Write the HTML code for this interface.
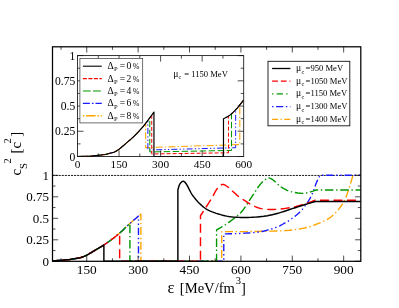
<!DOCTYPE html>
<html><head><meta charset="utf-8"><style>
html,body{margin:0;padding:0;background:#fff;width:399px;height:308px;overflow:hidden}
.t{font-family:"Liberation Serif",serif;fill:#000}
svg{will-change:transform}
</style></head><body>
<svg width="399" height="308" viewBox="0 0 399 308" style="position:absolute;left:0;top:0">
<rect width="399" height="308" fill="#fff"/>
<clipPath id="cm"><rect x="52.50" y="46.80" width="308.30" height="215.50"/></clipPath>
<clipPath id="ci"><rect x="77.50" y="55.60" width="166.20" height="101.90"/></clipPath>
<path d="M52.50 175.45 H360.80" stroke="#000" stroke-width="0.9" stroke-dasharray="2.1 0.98" fill="none"/>
<g clip-path="url(#cm)" fill="none" stroke-linejoin="round">
<path d="M35.37 261.30 L52.50 261.04 L69.63 259.58 L80.59 257.69 L81.05 257.51 L81.64 257.28 L82.34 257.02 L83.14 256.71 L84.00 256.37 L84.90 255.98 L85.83 255.56 L86.76 255.11 L87.71 254.60 L88.73 254.03 L89.79 253.42 L90.89 252.78 L92.00 252.11 L93.12 251.44 L94.23 250.77 L95.32 250.12 L96.39 249.49 L97.46 248.86 L98.53 248.24 L99.60 247.60 L100.67 246.97 L101.74 246.31 L102.81 245.65 L103.88 244.96 L104.96 244.25 L106.06 243.51 L107.16 242.76 L108.25 241.99 L109.34 241.22 L110.40 240.45 L111.44 239.69 L112.45 238.94 L113.39 238.23 L114.27 237.55 L115.11 236.90 L115.94 236.24 L116.78 235.55 L117.66 234.82 L118.60 234.00 L119.64 233.09 L120.79 232.05 L122.03 230.90 L123.34 229.66 L124.69 228.37 L126.05 227.07 L127.40 225.79 L128.69 224.58 L129.92 223.46 L131.11 222.40 L132.31 221.36 L133.50 220.34 L134.65 219.36 L135.75 218.44 L136.77 217.59 L137.68 216.82 L138.48 216.15 L139.15 215.58 L139.71 215.11 L140.17 214.72 L140.56 214.40 L140.87 214.14 L140.88 214.14 L140.88 261.30 L221.72 261.30 L221.72 231.63 L221.72 231.63 L223.10 231.63 L224.82 231.64 L226.85 231.66 L229.17 231.67 L231.76 231.67 L234.60 231.67 L237.66 231.66 L240.91 231.63 L244.58 231.59 L248.81 231.53 L253.40 231.47 L258.16 231.39 L262.91 231.31 L267.45 231.22 L271.60 231.13 L275.16 231.03 L278.13 230.93 L280.66 230.85 L282.87 230.76 L284.84 230.67 L286.67 230.55 L288.46 230.41 L290.30 230.23 L292.29 230.00 L294.38 229.73 L296.46 229.44 L298.52 229.13 L300.57 228.78 L302.62 228.38 L304.66 227.95 L306.70 227.45 L308.73 226.90 L310.81 226.26 L312.96 225.54 L315.13 224.76 L317.27 223.93 L319.36 223.08 L321.34 222.23 L323.18 221.40 L324.83 220.62 L326.27 219.90 L327.53 219.21 L328.64 218.55 L329.65 217.89 L330.59 217.21 L331.50 216.49 L332.43 215.71 L333.40 214.86 L334.41 213.91 L335.42 212.89 L336.43 211.81 L337.42 210.68 L338.38 209.55 L339.29 208.42 L340.14 207.31 L340.93 206.26 L341.65 205.26 L342.29 204.28 L342.89 203.33 L343.44 202.39 L343.95 201.45 L344.44 200.50 L344.91 199.52 L345.38 198.52 L345.84 197.49 L346.26 196.43 L346.66 195.36 L347.03 194.27 L347.40 193.18 L347.75 192.09 L348.11 191.00 L348.47 189.92 L348.83 188.83 L349.20 187.71 L349.57 186.58 L349.92 185.46 L350.27 184.36 L350.60 183.29 L350.92 182.27 L351.21 181.32 L351.48 180.40 L351.75 179.49 L352.00 178.61 L352.24 177.77 L352.45 177.00 L352.64 176.32 L352.80 175.75 L352.92 175.30 L360.80 175.30" stroke="#ffa500" stroke-width="1.40" stroke-dasharray="8 2.7 1.4 2.7"/>
<path d="M35.37 261.30 L52.50 261.04 L69.63 259.58 L80.59 257.69 L81.05 257.51 L81.64 257.28 L82.34 257.02 L83.14 256.71 L84.00 256.37 L84.90 255.98 L85.83 255.56 L86.76 255.11 L87.71 254.60 L88.73 254.03 L89.79 253.42 L90.89 252.78 L92.00 252.11 L93.12 251.44 L94.23 250.77 L95.32 250.12 L96.39 249.49 L97.46 248.86 L98.53 248.24 L99.60 247.60 L100.67 246.97 L101.74 246.31 L102.81 245.65 L103.88 244.96 L104.96 244.25 L106.06 243.51 L107.16 242.76 L108.25 241.99 L109.34 241.22 L110.40 240.45 L111.44 239.69 L112.45 238.94 L113.39 238.23 L114.27 237.55 L115.11 236.90 L115.94 236.24 L116.78 235.55 L117.66 234.82 L118.60 234.00 L119.64 233.09 L120.79 232.05 L122.03 230.90 L123.34 229.66 L124.69 228.37 L126.05 227.07 L127.40 225.79 L128.69 224.58 L129.92 223.46 L131.11 222.40 L132.31 221.36 L133.50 220.34 L134.65 219.36 L135.75 218.44 L136.77 217.59 L137.68 216.82 L138.48 216.15 L138.48 216.15 L138.48 261.30 L223.78 261.30 L223.78 233.95 L223.78 233.95 L225.09 233.91 L226.82 233.86 L228.87 233.81 L231.16 233.74 L233.60 233.67 L236.10 233.58 L238.57 233.47 L240.91 233.35 L243.20 233.23 L245.55 233.12 L247.95 233.00 L250.37 232.87 L252.78 232.70 L255.16 232.49 L257.49 232.22 L259.75 231.89 L261.97 231.46 L264.23 230.95 L266.46 230.38 L268.65 229.76 L270.76 229.12 L272.74 228.49 L274.56 227.89 L276.19 227.33 L277.58 226.82 L278.75 226.34 L279.76 225.89 L280.64 225.43 L281.46 224.98 L282.27 224.50 L283.12 224.00 L284.07 223.46 L285.08 222.89 L286.09 222.31 L287.11 221.71 L288.14 221.10 L289.17 220.45 L290.20 219.77 L291.24 219.06 L292.29 218.30 L293.35 217.51 L294.43 216.68 L295.52 215.83 L296.61 214.94 L297.70 214.01 L298.78 213.05 L299.83 212.04 L300.85 210.99 L301.87 209.87 L302.88 208.67 L303.89 207.41 L304.88 206.13 L305.83 204.83 L306.75 203.54 L307.60 202.29 L308.39 201.10 L309.10 199.98 L309.74 198.90 L310.31 197.86 L310.85 196.83 L311.36 195.79 L311.85 194.74 L312.34 193.65 L312.84 192.50 L313.35 191.27 L313.84 189.96 L314.32 188.60 L314.79 187.23 L315.25 185.87 L315.71 184.56 L316.16 183.32 L316.61 182.18 L317.08 181.11 L317.57 180.06 L318.07 179.05 L318.56 178.10 L319.02 177.22 L319.43 176.46 L319.77 175.81 L320.04 175.30 L360.80 175.30" stroke="#1a1aff" stroke-width="1.40" stroke-dasharray="7.2 2.8 1.4 2.8 1.4 2.8"/>
<path d="M35.37 261.30 L52.50 261.04 L69.63 259.58 L80.59 257.69 L81.05 257.51 L81.64 257.28 L82.34 257.02 L83.14 256.71 L84.00 256.37 L84.90 255.98 L85.83 255.56 L86.76 255.11 L87.71 254.60 L88.73 254.03 L89.79 253.42 L90.89 252.78 L92.00 252.11 L93.12 251.44 L94.23 250.77 L95.32 250.12 L96.39 249.49 L97.46 248.86 L98.53 248.24 L99.60 247.60 L100.67 246.97 L101.74 246.31 L102.81 245.65 L103.88 244.96 L104.96 244.25 L106.06 243.51 L107.16 242.76 L108.25 241.99 L109.34 241.22 L110.40 240.45 L111.44 239.69 L112.45 238.94 L113.39 238.23 L114.27 237.55 L115.11 236.90 L115.94 236.24 L116.78 235.55 L117.66 234.82 L118.60 234.00 L119.64 233.09 L120.79 232.05 L122.03 230.90 L123.34 229.66 L124.69 228.37 L126.05 227.07 L127.40 225.79 L128.69 224.58 L129.92 223.46 L129.92 223.46 L129.92 261.30 L216.58 261.30 L216.58 229.91 L216.58 229.91 L217.38 229.44 L218.42 228.86 L219.65 228.16 L221.04 227.37 L222.53 226.50 L224.08 225.54 L225.66 224.53 L227.20 223.46 L228.80 222.31 L230.52 221.07 L232.33 219.74 L234.16 218.34 L235.98 216.90 L237.74 215.43 L239.40 213.94 L240.91 212.45 L242.25 210.96 L243.46 209.44 L244.58 207.89 L245.64 206.31 L246.66 204.72 L247.67 203.10 L248.72 201.46 L249.81 199.81 L250.98 198.07 L252.20 196.22 L253.44 194.31 L254.67 192.39 L255.88 190.54 L257.03 188.79 L258.10 187.22 L259.06 185.88 L259.90 184.77 L260.65 183.85 L261.32 183.09 L261.93 182.45 L262.50 181.90 L263.06 181.40 L263.62 180.94 L264.20 180.46 L264.79 179.98 L265.36 179.54 L265.92 179.14 L266.47 178.79 L267.01 178.50 L267.56 178.28 L268.10 178.12 L268.65 178.05 L269.20 178.06 L269.72 178.15 L270.23 178.30 L270.75 178.53 L271.29 178.81 L271.85 179.16 L272.45 179.57 L273.11 180.03 L273.83 180.59 L274.60 181.27 L275.43 182.04 L276.27 182.85 L277.13 183.68 L277.99 184.48 L278.82 185.23 L279.61 185.88 L280.38 186.45 L281.13 186.97 L281.86 187.46 L282.59 187.92 L283.31 188.34 L284.02 188.74 L284.73 189.12 L285.44 189.49 L286.10 189.83 L286.70 190.14 L287.26 190.42 L287.84 190.68 L288.45 190.93 L289.15 191.17 L289.96 191.40 L290.92 191.64 L292.07 191.90 L293.38 192.18 L294.82 192.47 L296.34 192.74 L297.88 192.99 L299.40 193.18 L300.87 193.31 L302.22 193.36 L303.51 193.31 L304.79 193.17 L306.05 192.96 L307.28 192.71 L308.45 192.43 L309.55 192.14 L310.56 191.87 L311.47 191.64 L312.29 191.42 L313.03 191.19 L313.69 190.95 L314.28 190.72 L314.79 190.50 L315.24 190.30 L315.61 190.13 L315.93 190.01 L360.80 190.01" stroke="#009600" stroke-width="1.40" stroke-dasharray="8.5 2.7 1.4 2.7"/>
<path d="M35.37 261.30 L52.50 261.04 L69.63 259.58 L80.59 257.69 L81.05 257.51 L81.64 257.28 L82.34 257.02 L83.14 256.71 L84.00 256.37 L84.90 255.98 L85.83 255.56 L86.76 255.11 L87.71 254.60 L88.73 254.03 L89.79 253.42 L90.89 252.78 L92.00 252.11 L93.12 251.44 L94.23 250.77 L95.32 250.12 L96.39 249.49 L97.46 248.86 L98.53 248.24 L99.60 247.60 L100.67 246.97 L101.74 246.31 L102.81 245.65 L103.88 244.96 L104.96 244.25 L106.06 243.51 L107.16 242.76 L108.25 241.99 L109.34 241.22 L110.40 240.45 L111.44 239.69 L112.45 238.94 L113.39 238.23 L114.27 237.55 L115.11 236.90 L115.94 236.24 L116.78 235.55 L117.66 234.82 L118.60 234.00 L119.64 233.09 L119.64 233.09 L119.64 261.30 L200.48 261.30 L200.48 215.72 L200.48 215.72 L200.97 214.98 L201.62 213.99 L202.39 212.81 L203.25 211.50 L204.14 210.13 L205.04 208.76 L205.89 207.45 L206.65 206.26 L207.34 205.18 L208.01 204.15 L208.65 203.14 L209.28 202.15 L209.91 201.16 L210.53 200.16 L211.15 199.14 L211.79 198.09 L212.43 196.97 L213.07 195.79 L213.72 194.57 L214.36 193.35 L215.00 192.16 L215.64 191.02 L216.28 189.98 L216.93 189.06 L217.57 188.23 L218.21 187.45 L218.85 186.74 L219.50 186.09 L220.14 185.54 L220.78 185.08 L221.42 184.73 L222.06 184.50 L222.70 184.41 L223.31 184.44 L223.92 184.59 L224.53 184.83 L225.15 185.15 L225.80 185.55 L226.48 185.99 L227.20 186.48 L227.98 187.04 L228.80 187.71 L229.65 188.46 L230.52 189.26 L231.41 190.10 L232.30 190.93 L233.19 191.74 L234.05 192.50 L234.85 193.19 L235.54 193.84 L236.20 194.46 L236.88 195.08 L237.63 195.73 L238.52 196.43 L239.59 197.21 L240.91 198.09 L242.50 199.14 L244.35 200.36 L246.38 201.69 L248.55 203.05 L250.79 204.39 L253.04 205.63 L255.24 206.70 L257.35 207.55 L259.36 208.18 L261.33 208.65 L263.29 208.99 L265.25 209.22 L267.23 209.36 L269.24 209.43 L271.31 209.45 L273.45 209.44 L275.71 209.38 L278.09 209.23 L280.54 209.00 L283.02 208.72 L285.48 208.40 L287.88 208.04 L290.16 207.67 L292.29 207.29 L294.28 206.89 L296.18 206.45 L298.00 205.97 L299.74 205.48 L301.40 204.97 L303.00 204.46 L304.53 203.97 L305.99 203.51 L307.42 203.05 L308.83 202.56 L310.19 202.07 L311.47 201.59 L312.64 201.15 L313.68 200.75 L314.56 200.41 L315.24 200.15 L360.80 200.15" stroke="#f00" stroke-width="1.45" stroke-dasharray="9 4.5"/>
<path d="M35.37 261.30 L52.50 261.04 L69.63 259.58 L80.59 257.69 L81.05 257.51 L81.64 257.28 L82.34 257.02 L83.14 256.71 L84.00 256.37 L84.90 255.98 L85.83 255.56 L86.76 255.11 L87.71 254.60 L88.73 254.03 L89.79 253.42 L90.89 252.78 L92.00 252.11 L93.12 251.44 L94.23 250.77 L95.32 250.12 L96.39 249.49 L97.46 248.86 L98.53 248.24 L99.60 247.60 L100.67 246.97 L101.74 246.31 L102.81 245.65 L103.88 244.96 L103.88 244.96 L103.88 261.30 L177.88 261.30 L177.88 189.92 L177.88 189.92 L178.02 189.43 L178.21 188.76 L178.44 187.95 L178.69 187.07 L178.97 186.17 L179.27 185.30 L179.59 184.53 L179.93 183.90 L180.29 183.37 L180.69 182.87 L181.11 182.42 L181.56 182.02 L182.01 181.70 L182.47 181.46 L182.92 181.33 L183.36 181.32 L183.77 181.42 L184.16 181.60 L184.55 181.88 L184.94 182.25 L185.35 182.72 L185.78 183.29 L186.26 183.97 L186.78 184.76 L187.35 185.71 L187.96 186.84 L188.60 188.10 L189.27 189.45 L189.97 190.85 L190.70 192.24 L191.47 193.58 L192.26 194.82 L193.10 196.00 L193.97 197.17 L194.88 198.33 L195.82 199.47 L196.78 200.57 L197.77 201.65 L198.78 202.69 L199.80 203.68 L200.80 204.62 L201.76 205.52 L202.72 206.38 L203.72 207.21 L204.78 208.01 L205.94 208.78 L207.24 209.55 L208.71 210.30 L210.37 211.06 L212.22 211.83 L214.22 212.58 L216.31 213.32 L218.45 214.01 L220.61 214.65 L222.74 215.23 L224.81 215.72 L226.80 216.13 L228.77 216.47 L230.72 216.74 L232.68 216.96 L234.67 217.13 L236.69 217.27 L238.76 217.37 L240.91 217.44 L243.15 217.48 L245.50 217.49 L247.92 217.45 L250.37 217.38 L252.81 217.27 L255.21 217.13 L257.54 216.95 L259.75 216.75 L261.83 216.52 L263.80 216.27 L265.70 215.98 L267.56 215.67 L269.41 215.31 L271.27 214.92 L273.18 214.48 L275.16 214.00 L277.24 213.45 L279.40 212.83 L281.61 212.15 L283.83 211.44 L286.04 210.71 L288.21 209.99 L290.30 209.31 L292.29 208.67 L294.20 208.06 L296.06 207.47 L297.87 206.88 L299.63 206.31 L301.33 205.77 L302.96 205.24 L304.51 204.75 L305.99 204.28 L307.42 203.84 L308.83 203.41 L310.19 203.01 L311.47 202.63 L312.64 202.29 L313.68 201.99 L314.56 201.73 L315.24 201.53 L360.80 201.53" stroke="#000" stroke-width="1.45"/>
</g>
<path d="M61.06 261.30 v-3.00 M61.06 46.80 v3.00 M86.76 261.30 v-5.70 M86.76 46.80 v5.70 M112.45 261.30 v-3.00 M112.45 46.80 v3.00 M138.14 261.30 v-5.70 M138.14 46.80 v5.70 M163.83 261.30 v-3.00 M163.83 46.80 v3.00 M189.52 261.30 v-5.70 M189.52 46.80 v5.70 M215.21 261.30 v-3.00 M215.21 46.80 v3.00 M240.91 261.30 v-5.70 M240.91 46.80 v5.70 M266.60 261.30 v-3.00 M266.60 46.80 v3.00 M292.29 261.30 v-5.70 M292.29 46.80 v5.70 M317.98 261.30 v-3.00 M317.98 46.80 v3.00 M343.67 261.30 v-5.70 M343.67 46.80 v5.70 M52.50 261.30 h5.70 M360.80 261.30 h-5.70 M52.50 250.55 h3.00 M360.80 250.55 h-3.00 M52.50 239.80 h5.70 M360.80 239.80 h-5.70 M52.50 229.05 h3.00 M360.80 229.05 h-3.00 M52.50 218.30 h5.70 M360.80 218.30 h-5.70 M52.50 207.55 h3.00 M360.80 207.55 h-3.00 M52.50 196.80 h5.70 M360.80 196.80 h-5.70 M52.50 186.05 h3.00 M360.80 186.05 h-3.00 M52.50 175.30 h5.70 M360.80 175.30 h-5.70" stroke="#000" stroke-width="0.7" fill="none"/>
<rect x="52.50" y="46.80" width="308.30" height="214.50" fill="none" stroke="#000" stroke-width="1.25"/>
<rect x="77.50" y="55.60" width="166.20" height="100.90" fill="#fff" stroke="none"/>
<g clip-path="url(#ci)" fill="none" stroke-linejoin="round">
<path d="M77.50 156.50 L91.35 156.20 L105.20 154.48 L114.06 152.26 L114.44 152.05 L114.91 151.78 L115.48 151.47 L116.12 151.11 L116.82 150.71 L117.55 150.26 L118.30 149.77 L119.05 149.24 L119.82 148.64 L120.64 147.98 L121.50 147.26 L122.39 146.50 L123.29 145.72 L124.20 144.93 L125.10 144.14 L125.97 143.38 L126.84 142.64 L127.71 141.91 L128.57 141.17 L129.44 140.43 L130.30 139.68 L131.17 138.92 L132.03 138.14 L132.90 137.33 L133.77 136.49 L134.66 135.63 L135.55 134.75 L136.43 133.85 L137.31 132.94 L138.17 132.04 L139.01 131.15 L139.82 130.27 L140.59 129.43 L141.30 128.64 L141.98 127.87 L142.65 127.10 L143.33 126.29 L144.04 125.43 L144.80 124.47 L145.64 123.40 L145.64 123.40 L145.64 147.62 L239.82 144.59 L239.82 104.94 L240.67 103.87 L241.61 102.67 L242.46 101.58 L243.17 100.67 L243.70 100.00" stroke="#ffa500" stroke-width="1.05" stroke-dasharray="7 2.2 1.3 2.2"/>
<path d="M77.50 156.50 L91.35 156.20 L105.20 154.48 L114.06 152.26 L114.44 152.05 L114.91 151.78 L115.48 151.47 L116.12 151.11 L116.82 150.71 L117.55 150.26 L118.30 149.77 L119.05 149.24 L119.82 148.64 L120.64 147.98 L121.50 147.26 L122.39 146.50 L123.29 145.72 L124.20 144.93 L125.10 144.14 L125.97 143.38 L126.84 142.64 L127.71 141.91 L128.57 141.17 L129.44 140.43 L130.30 139.68 L131.17 138.92 L132.03 138.14 L132.90 137.33 L133.77 136.49 L134.66 135.63 L135.55 134.75 L136.43 133.85 L137.31 132.94 L138.17 132.04 L139.01 131.15 L139.82 130.27 L140.59 129.43 L141.30 128.64 L141.98 127.87 L142.65 127.10 L143.33 126.29 L144.04 125.43 L144.80 124.47 L145.64 123.40 L146.57 122.19 L147.58 120.83 L147.86 120.44 L147.86 150.04 L235.67 147.72 L235.67 109.76 L235.91 109.51 L236.78 108.57 L237.69 107.54 L238.67 106.37 L239.68 105.13 L240.67 103.87 L241.61 102.67 L242.46 101.58 L243.17 100.67 L243.70 100.00" stroke="#1a1aff" stroke-width="1.00" stroke-dasharray="6 2.2 1.3 2.2 1.3 2.2"/>
<path d="M77.50 156.50 L91.35 156.20 L105.20 154.48 L114.06 152.26 L114.44 152.05 L114.91 151.78 L115.48 151.47 L116.12 151.11 L116.82 150.71 L117.55 150.26 L118.30 149.77 L119.05 149.24 L119.82 148.64 L120.64 147.98 L121.50 147.26 L122.39 146.50 L123.29 145.72 L124.20 144.93 L125.10 144.14 L125.97 143.38 L126.84 142.64 L127.71 141.91 L128.57 141.17 L129.44 140.43 L130.30 139.68 L131.17 138.92 L132.03 138.14 L132.90 137.33 L133.77 136.49 L134.66 135.63 L135.55 134.75 L136.43 133.85 L137.31 132.94 L138.17 132.04 L139.01 131.15 L139.82 130.27 L140.59 129.43 L141.30 128.64 L141.98 127.87 L142.65 127.10 L143.33 126.29 L144.04 125.43 L144.80 124.47 L145.64 123.40 L146.57 122.19 L147.58 120.83 L148.64 119.37 L149.73 117.86 L149.80 117.77 L149.80 151.96 L231.51 150.45 L231.51 113.77 L231.54 113.74 L232.41 112.97 L233.28 112.16 L234.15 111.31 L235.03 110.42 L235.91 109.51 L236.78 108.57 L237.69 107.54 L238.67 106.37 L239.68 105.13 L240.67 103.87 L241.61 102.67 L242.46 101.58 L243.17 100.67 L243.70 100.00" stroke="#009600" stroke-width="1.00" stroke-dasharray="6.5 2.5"/>
<path d="M77.50 156.50 L91.35 156.20 L105.20 154.48 L114.06 152.26 L114.44 152.05 L114.91 151.78 L115.48 151.47 L116.12 151.11 L116.82 150.71 L117.55 150.26 L118.30 149.77 L119.05 149.24 L119.82 148.64 L120.64 147.98 L121.50 147.26 L122.39 146.50 L123.29 145.72 L124.20 144.93 L125.10 144.14 L125.97 143.38 L126.84 142.64 L127.71 141.91 L128.57 141.17 L129.44 140.43 L130.30 139.68 L131.17 138.92 L132.03 138.14 L132.90 137.33 L133.77 136.49 L134.66 135.63 L135.55 134.75 L136.43 133.85 L137.31 132.94 L138.17 132.04 L139.01 131.15 L139.82 130.27 L140.59 129.43 L141.30 128.64 L141.98 127.87 L142.65 127.10 L143.33 126.29 L144.04 125.43 L144.80 124.47 L145.64 123.40 L146.57 122.19 L147.58 120.83 L148.64 119.37 L149.73 117.86 L150.83 116.34 L151.74 115.09 L151.74 153.98 L228.47 152.77 L228.47 116.08 L228.98 115.75 L229.85 115.13 L230.69 114.47 L231.54 113.74 L232.41 112.97 L233.28 112.16 L234.15 111.31 L235.03 110.42 L235.91 109.51 L236.78 108.57 L237.69 107.54 L238.67 106.37 L239.68 105.13 L240.67 103.87 L241.61 102.67 L242.46 101.58 L243.17 100.67 L243.70 100.00" stroke="#f00" stroke-width="1.00" stroke-dasharray="4 2"/>
<path d="M77.50 156.50 L91.35 156.20 L105.20 154.48 L114.06 152.26 L114.44 152.05 L114.91 151.78 L115.48 151.47 L116.12 151.11 L116.82 150.71 L117.55 150.26 L118.30 149.77 L119.05 149.24 L119.82 148.64 L120.64 147.98 L121.50 147.26 L122.39 146.50 L123.29 145.72 L124.20 144.93 L125.10 144.14 L125.97 143.38 L126.84 142.64 L127.71 141.91 L128.57 141.17 L129.44 140.43 L130.30 139.68 L131.17 138.92 L132.03 138.14 L132.90 137.33 L133.77 136.49 L134.66 135.63 L135.55 134.75 L136.43 133.85 L137.31 132.94 L138.17 132.04 L139.01 131.15 L139.82 130.27 L140.59 129.43 L141.30 128.64 L141.98 127.87 L142.65 127.10 L143.33 126.29 L144.04 125.43 L144.80 124.47 L145.64 123.40 L146.57 122.19 L147.58 120.83 L148.64 119.37 L149.73 117.86 L150.83 116.34 L151.91 114.84 L152.96 113.42 L153.95 112.10 L153.95 112.10 L153.95 156.50 L223.48 156.50 L223.48 118.76 L223.97 118.50 L224.61 118.18 L225.38 117.80 L226.23 117.36 L227.14 116.87 L228.07 116.33 L228.98 115.75 L229.85 115.13 L230.69 114.47 L231.54 113.74 L232.41 112.97 L233.28 112.16 L234.15 111.31 L235.03 110.42 L235.91 109.51 L236.78 108.57 L237.69 107.54 L238.67 106.37 L239.68 105.13 L240.67 103.87 L241.61 102.67 L242.46 101.58 L243.17 100.67 L243.70 100.00" stroke="#000" stroke-width="1.20"/>
</g>
<path d="M98.28 156.50 v-3.00 M98.28 55.60 v3.00 M119.05 156.50 v-6.00 M119.05 55.60 v6.00 M139.82 156.50 v-3.00 M139.82 55.60 v3.00 M160.60 156.50 v-6.00 M160.60 55.60 v6.00 M181.38 156.50 v-3.00 M181.38 55.60 v3.00 M202.15 156.50 v-6.00 M202.15 55.60 v6.00 M222.93 156.50 v-3.00 M222.93 55.60 v3.00 M77.50 156.50 h6.00 M243.70 156.50 h-6.00 M77.50 143.89 h3.00 M243.70 143.89 h-3.00 M77.50 131.28 h6.00 M243.70 131.28 h-6.00 M77.50 118.66 h3.00 M243.70 118.66 h-3.00 M77.50 106.05 h6.00 M243.70 106.05 h-6.00 M77.50 93.44 h3.00 M243.70 93.44 h-3.00 M77.50 80.82 h6.00 M243.70 80.82 h-6.00 M77.50 68.21 h3.00 M243.70 68.21 h-3.00 M77.50 55.60 h6.00 M243.70 55.60 h-6.00" stroke="#000" stroke-width="0.7" fill="none"/>
<rect x="77.50" y="55.60" width="166.20" height="100.90" fill="none" stroke="#111" stroke-width="0.85"/>
<rect x="79.9" y="58.4" width="62.8" height="64.5" fill="#fff" stroke="#333" stroke-width="0.7"/>
<path d="M82.9 66.20 H101.8" stroke="#000" stroke-width="1.10" fill="none"/>
<text x="107.6" y="69.10" font-size="9.6" class="t">&#916;</text>
<text x="114.0" y="71.30" font-size="6.6" class="t">P</text>
<text x="119.8" y="69.10" font-size="9.6" class="t">=</text>
<text x="126.4" y="69.10" font-size="9.6" class="t">0</text>
<text x="132.8" y="69.10" font-size="8" class="t">%</text>
<path d="M82.9 78.60 H101.8" stroke="#f00" stroke-width="1.10" stroke-dasharray="4 1.5" fill="none"/>
<text x="107.6" y="81.50" font-size="9.6" class="t">&#916;</text>
<text x="114.0" y="83.70" font-size="6.6" class="t">P</text>
<text x="119.8" y="81.50" font-size="9.6" class="t">=</text>
<text x="126.4" y="81.50" font-size="9.6" class="t">2</text>
<text x="132.8" y="81.50" font-size="8" class="t">%</text>
<path d="M82.9 91.00 H101.8" stroke="#009600" stroke-width="1.10" stroke-dasharray="7.8 2.3" fill="none"/>
<text x="107.6" y="93.90" font-size="9.6" class="t">&#916;</text>
<text x="114.0" y="96.10" font-size="6.6" class="t">P</text>
<text x="119.8" y="93.90" font-size="9.6" class="t">=</text>
<text x="126.4" y="93.90" font-size="9.6" class="t">4</text>
<text x="132.8" y="93.90" font-size="8" class="t">%</text>
<path d="M82.9 103.40 H101.8" stroke="#1a1aff" stroke-width="1.10" stroke-dasharray="7 2 1.6 2" fill="none"/>
<text x="107.6" y="106.30" font-size="9.6" class="t">&#916;</text>
<text x="114.0" y="108.50" font-size="6.6" class="t">P</text>
<text x="119.8" y="106.30" font-size="9.6" class="t">=</text>
<text x="126.4" y="106.30" font-size="9.6" class="t">6</text>
<text x="132.8" y="106.30" font-size="8" class="t">%</text>
<path d="M82.9 115.80 H101.8" stroke="#ffa500" stroke-width="1.50" stroke-dasharray="1.4 1.8 9.5 1.8 1.4 1.8" fill="none"/>
<text x="107.6" y="118.70" font-size="9.6" class="t">&#916;</text>
<text x="114.0" y="120.90" font-size="6.6" class="t">P</text>
<text x="119.8" y="118.70" font-size="9.6" class="t">=</text>
<text x="126.4" y="118.70" font-size="9.6" class="t">8</text>
<text x="132.8" y="118.70" font-size="8" class="t">%</text>
<text x="173.3" y="76.5" font-size="9.6" class="t">&#956;</text>
<text x="178.6" y="78.8" font-size="6" class="t">c</text>
<text x="184.2" y="76.5" font-size="8.6" class="t">= 1150 MeV</text>
<rect x="268" y="61.3" width="81.8" height="64.5" fill="#fff" stroke="#111" stroke-width="0.9"/>
<path d="M272.1 68.50 H290.4" stroke="#000" stroke-width="1.3" fill="none"/>
<text x="296.0" y="70.90" font-size="9.6" class="t">&#956;</text>
<text x="301.6" y="73.50" font-size="6.2" class="t">c</text>
<text x="305.6" y="70.90" font-size="8.6" class="t">=950 MeV</text>
<path d="M272.1 81.20 H290.4" stroke="#f00" stroke-width="1.3" stroke-dasharray="5.8 2.9" fill="none"/>
<text x="296.0" y="83.60" font-size="9.6" class="t">&#956;</text>
<text x="301.6" y="86.20" font-size="6.2" class="t">c</text>
<text x="305.6" y="83.60" font-size="8.6" class="t">=1050 MeV</text>
<path d="M272.1 93.90 H290.4" stroke="#009600" stroke-width="1.3" stroke-dasharray="1.3 3.3 6.2 3.3" fill="none"/>
<text x="296.0" y="96.30" font-size="9.6" class="t">&#956;</text>
<text x="301.6" y="98.90" font-size="6.2" class="t">c</text>
<text x="305.6" y="96.30" font-size="8.6" class="t">=1150 MeV</text>
<path d="M272.1 106.60 H290.4" stroke="#1a1aff" stroke-width="1.3" stroke-dasharray="1.4 2.6 7.2 2.6 1.4 2.6" fill="none"/>
<text x="296.0" y="109.00" font-size="9.6" class="t">&#956;</text>
<text x="301.6" y="111.60" font-size="6.2" class="t">c</text>
<text x="305.6" y="109.00" font-size="8.6" class="t">=1300 MeV</text>
<path d="M272.1 119.30 H290.4" stroke="#ffa500" stroke-width="1.3" stroke-dasharray="6 2.5 1.2 2.5" fill="none"/>
<text x="296.0" y="121.70" font-size="9.6" class="t">&#956;</text>
<text x="301.6" y="124.30" font-size="6.2" class="t">c</text>
<text x="305.6" y="121.70" font-size="8.6" class="t">=1400 MeV</text>
<text x="86.76" y="274.1" font-size="13.3" text-anchor="middle" class="t">150</text>
<text x="138.14" y="274.1" font-size="13.3" text-anchor="middle" class="t">300</text>
<text x="189.52" y="274.1" font-size="13.3" text-anchor="middle" class="t">450</text>
<text x="240.91" y="274.1" font-size="13.3" text-anchor="middle" class="t">600</text>
<text x="292.29" y="274.1" font-size="13.3" text-anchor="middle" class="t">750</text>
<text x="343.67" y="274.1" font-size="13.3" text-anchor="middle" class="t">900</text>
<text x="49.0" y="265.90" font-size="13" text-anchor="end" class="t">0</text>
<text x="49.0" y="244.40" font-size="13" text-anchor="end" class="t">0.25</text>
<text x="49.0" y="222.90" font-size="13" text-anchor="end" class="t">0.5</text>
<text x="49.0" y="201.40" font-size="13" text-anchor="end" class="t">0.75</text>
<text x="49.0" y="179.90" font-size="13" text-anchor="end" class="t">1</text>
<text x="77.50" y="167.8" font-size="11.3" text-anchor="middle" class="t">0</text>
<text x="119.05" y="167.8" font-size="11.3" text-anchor="middle" class="t">150</text>
<text x="160.60" y="167.8" font-size="11.3" text-anchor="middle" class="t">300</text>
<text x="202.15" y="167.8" font-size="11.3" text-anchor="middle" class="t">450</text>
<text x="243.70" y="167.8" font-size="11.3" text-anchor="middle" class="t">600</text>
<text x="75.3" y="160.50" font-size="11.6" text-anchor="end" class="t">0</text>
<text x="75.3" y="135.28" font-size="11.6" text-anchor="end" class="t">0.25</text>
<text x="75.3" y="110.05" font-size="11.6" text-anchor="end" class="t">0.5</text>
<text x="75.3" y="84.82" font-size="11.6" text-anchor="end" class="t">0.75</text>
<text x="75.3" y="59.60" font-size="11.6" text-anchor="end" class="t">1</text>
<text x="167.6" y="293.4" font-size="16.5" class="t">&#949;</text>
<text x="179.8" y="293.4" font-size="14.6" class="t">[MeV/fm</text>
<text x="235.8" y="284.0" font-size="10.5" class="t">3</text>
<text x="241.0" y="293.4" font-size="14.6" class="t">]</text>
<g transform="translate(21.1,175.6) rotate(-90)">
<text x="0" y="0" font-size="15" class="t">c</text>
<text x="6.6" y="5.8" font-size="10.8" class="t">S</text>
<text x="12.0" y="-10" font-size="10.5" class="t">2</text>
<text x="22.2" y="0" font-size="15" class="t">[c</text>
<text x="32.0" y="-10" font-size="10.5" class="t">2</text>
<text x="38.8" y="0" font-size="15" class="t">]</text>
</g>
</svg>
</body></html>
